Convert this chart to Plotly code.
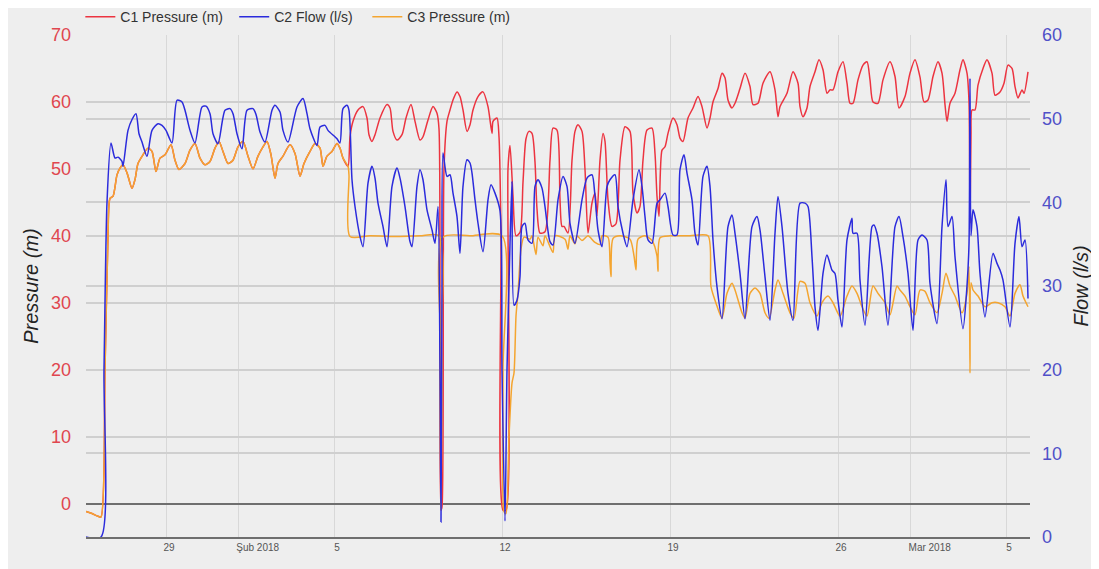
import pandas as pd
import plotly.graph_objects as go

# ---------------- data (time = hours since 2018-01-25 00:00) ----------------
# Start-up period: C1 and C3 pressures coincide (C1 hidden under C3)
early_hours = [16, 22, 28, 31, 35, 38, 40, 43, 47, 50,
               53, 57, 62, 65, 68, 73, 78, 82, 86, 90,
               95, 101, 105, 109, 115, 120, 125, 130, 135, 140,
               145, 149, 153, 158, 163, 168, 173, 178, 183, 188,
               193, 197, 201, 205, 208, 213, 220, 225, 230, 234,
               240, 245, 250, 253, 257, 262, 267, 270, 273, 278]
early_pressure = [-1.2, -1.5, -1.9, -2.0, 20.0, 40.0, 45.6, 45.9, 49.1, 50.1,
                  50.6, 49.4, 47.1, 48.4, 50.8, 52.1, 53.1, 52.6, 49.6, 51.6,
                  52.1, 53.6, 51.3, 49.9, 50.8, 52.8, 53.8, 51.6, 50.6, 51.1,
                  53.1, 54.1, 52.6, 50.8, 51.3, 53.3, 54.1, 51.9, 50.0, 51.9,
                  53.3, 54.1, 52.1, 48.6, 50.8, 51.9, 53.6, 52.3, 48.9, 50.8,
                  52.6, 53.8, 53.1, 50.4, 51.9, 52.6, 53.8, 53.1, 51.6, 50.4]

c1_hours_late = [280, 283, 288, 293, 297, 299, 302, 305, 310, 317,
                 320, 323, 327, 332, 336, 341, 345, 350, 353, 358,
                 363, 367, 369, 370, 371, 372, 374, 377, 380, 383,
                 387, 390, 393, 397, 400, 403, 408, 413, 418, 422,
                 423, 427, 429, 431, 433, 436, 438, 440, 443, 446,
                 450, 453, 456, 459, 462, 465, 467, 470, 475, 480,
                 483, 487, 490, 492, 494, 498, 502, 505, 508, 512,
                 515, 518, 522, 525, 527, 530, 533, 535, 538, 542,
                 546, 550, 555, 560, 563, 567, 570, 573, 577, 582,
                 585, 587, 589, 592, 595, 598, 603, 607, 610, 613,
                 618, 623, 628, 632, 637, 640, 643, 648, 652, 655,
                 658, 662, 665, 670, 675, 680, 683, 688, 693, 700,
                 705, 708, 710, 717, 723, 728, 730, 733, 737, 740,
                 745, 749, 753, 757, 760, 763, 768, 773, 777, 780,
                 783, 788, 793, 797, 800, 803, 808, 813, 820, 825,
                 829, 835, 840, 845, 850, 854, 858, 863, 868, 872,
                 875, 877, 880, 885, 890, 893, 897, 899, 900, 901,
                 902, 905, 908, 913, 917, 922, 925, 930, 934, 938,
                 942, 945, 948, 952, 954, 958]
c1_pressure_late = [54.8, 57.1, 58.8, 59.3, 57.6, 55.1, 54.1, 55.1, 57.6, 59.6,
                    59.1, 55.6, 54.3, 55.1, 57.6, 59.6, 57.1, 54.3, 54.8, 57.3,
                    59.3, 58.3, 56.0, 20.0, -1.0, -0.5, 50.0, 57.1, 58.8, 60.3,
                    61.5, 60.8, 58.8, 55.6, 56.6, 58.8, 60.8, 61.5, 59.3, 55.3,
                    57.1, 57.6, 54.8, 40.0, -1.0, -1.0, 50.0, 53.5, 46.0, 40.0,
                    40.5, 48.0, 54.5, 55.6, 55.3, 51.0, 44.0, 40.4, 40.6, 51.3,
                    56.1, 55.8, 45.4, 41.4, 41.4, 40.4, 51.3, 55.6, 56.6, 55.6,
                    49.9, 40.4, 44.9, 46.4, 43.0, 51.3, 55.3, 54.1, 45.4, 41.4,
                    41.8, 51.3, 56.3, 55.6, 46.4, 43.4, 44.4, 51.3, 55.8, 56.1,
                    52.3, 45.9, 42.9, 52.8, 53.3, 55.3, 57.6, 56.6, 54.6, 54.1,
                    57.6, 59.1, 60.8, 59.3, 56.1, 57.6, 60.0, 62.0, 64.3, 63.6,
                    60.3, 59.1, 59.8, 62.0, 64.3, 62.3, 59.6, 59.8, 62.8, 64.5,
                    61.8, 57.8, 59.3, 61.3, 64.5, 62.8, 59.3, 57.8, 59.1, 62.3,
                    64.5, 66.3, 64.8, 61.3, 61.8, 61.8, 64.5, 66.0, 62.8, 59.8,
                    59.8, 63.3, 65.5, 66.0, 63.3, 60.0, 59.8, 63.3, 66.0, 63.8,
                    59.1, 60.8, 64.3, 66.3, 63.7, 60.0, 60.3, 63.8, 66.0, 64.3,
                    59.6, 57.1, 59.8, 61.3, 64.8, 66.3, 64.3, 60.0, 42.0, 55.0,
                    58.8, 58.8, 62.5, 65.0, 66.3, 64.3, 61.0, 61.5, 62.8, 65.5,
                    65.0, 62.3, 60.6, 61.8, 61.3, 64.5]

c3_hours_late = [279, 280, 300, 330, 350, 369, 370, 371, 372, 373,
                 400, 432, 433, 434, 436, 439, 442, 444, 446, 448,
                 451, 454, 460, 462, 466, 468, 473, 475, 483, 485,
                 495, 498, 500, 505, 507, 512, 518, 525, 530, 532,
                 538, 540, 541, 543, 550, 560, 564, 566, 568, 575,
                 582, 587, 588, 590, 600, 620, 638, 641, 647, 652,
                 657, 662, 665, 672, 675, 680, 685, 690, 695, 699,
                 705, 708, 713, 720, 724, 730, 735, 740, 747, 752,
                 758, 763, 770, 777, 782, 787, 792, 797, 803, 808,
                 815, 820, 827, 830, 835, 840, 845, 850, 855, 860,
                 867, 872, 876, 880, 885, 892, 897, 899, 900, 901,
                 903, 908, 915, 922, 928, 935, 940, 945, 950, 953,
                 958]
c3_pressure_late = [49.0, 39.9, 40.0, 39.9, 40.0, 40.0, 20.0, -1.0, 20.0, 39.8,
                    40.0, 40.0, 20.0, -1.2, -1.5, 10.0, 18.0, 19.5, 28.0, 31.4,
                    38.0, 39.8, 39.5, 40.0, 37.2, 39.8, 38.5, 40.0, 37.5, 40.0,
                    39.5, 38.0, 40.0, 38.8, 40.0, 39.3, 40.0, 39.0, 38.7, 40.0,
                    39.8, 36.0, 33.9, 39.6, 40.0, 39.5, 37.0, 34.9, 39.5, 40.0,
                    39.3, 37.0, 34.7, 39.7, 40.0, 40.0, 40.0, 32.4, 29.5, 27.7,
                    31.4, 32.9, 31.9, 28.5, 27.7, 31.4, 32.2, 31.4, 28.5, 27.7,
                    31.9, 33.4, 31.4, 28.5, 27.7, 33.2, 32.9, 30.0, 28.0, 30.0,
                    31.0, 30.0, 28.0, 31.0, 32.5, 31.4, 29.4, 28.0, 32.5, 31.4,
                    30.0, 28.2, 32.5, 31.9, 31.0, 29.4, 28.2, 31.9, 31.7, 30.0,
                    28.5, 31.4, 34.4, 32.5, 31.0, 28.5, 31.4, 35.4, 19.5, 33.0,
                    31.9, 31.0, 29.4, 30.0, 30.0, 29.4, 28.0, 31.4, 32.7, 31.0,
                    29.4]

c2_hours = [16, 31, 34, 37, 41, 45, 48, 52, 53, 58,
            62, 66, 69, 72, 77, 82, 88, 92, 96, 102,
            107, 112, 115, 120, 125, 132, 136, 140, 143, 148,
            155, 160, 163, 167, 172, 177, 183, 186, 190, 195,
            202, 205, 210, 213, 218, 227, 233, 237, 240, 247,
            250, 255, 258, 267, 270, 273, 277, 279, 282, 285,
            290, 293, 298, 302, 305, 308, 313, 317, 322, 327,
            330, 335, 340, 342, 347, 350, 353, 357, 362, 365,
            368, 370, 371, 372, 373, 377, 380, 383, 387, 390,
            393, 397, 400, 402, 405, 408, 413, 418, 421, 425,
            430, 432, 435, 437, 440, 442, 444, 447, 450, 452,
            455, 458, 462, 465, 468, 472, 475, 480, 483, 488,
            493, 497, 500, 505, 512, 517, 522, 525, 528, 532,
            537, 540, 545, 548, 553, 557, 563, 569, 572, 575,
            578, 582, 587, 590, 595, 598, 603, 607, 610, 614,
            617, 622, 625, 628, 633, 637, 640, 643, 647, 652,
            658, 662, 665, 670, 675, 682, 687, 690, 695, 700,
            705, 708, 712, 718, 723, 730, 735, 738, 742, 745,
            748, 753, 757, 762, 765, 768, 772, 777, 782, 783,
            787, 790, 795, 802, 804, 807, 812, 818, 825, 829,
            833, 838, 843, 848, 852, 857, 860, 867, 872, 876,
            878, 882, 885, 893, 897, 899, 900, 901, 903, 907,
            910, 915, 923, 927, 930, 933, 940, 945, 949, 952,
            955, 958]
c2_flow = [0.0, 0.0, 20.0, 40.0, 47.1, 45.3, 45.4, 44.9, 44.3, 48.6,
           49.9, 50.6, 48.2, 47.2, 45.5, 48.6, 49.4, 49.2, 48.6, 47.1,
           52.2, 52.0, 51.0, 48.6, 47.1, 51.4, 51.5, 50.6, 48.2, 47.0,
           51.0, 51.2, 50.6, 48.2, 46.4, 51.0, 51.2, 50.5, 48.4, 47.2,
           51.0, 51.6, 50.8, 48.6, 47.2, 51.4, 52.4, 50.6, 48.8, 46.8,
           49.0, 49.2, 48.6, 47.6, 47.1, 51.2, 51.6, 51.0, 42.7, 39.5,
           35.9, 34.7, 42.3, 44.3, 42.9, 39.9, 37.1, 34.7, 41.9, 44.1,
           42.9, 39.5, 35.3, 34.7, 41.9, 43.9, 42.7, 39.1, 36.7, 35.1,
           39.5, 20.0, 1.8, 30.0, 45.9, 43.1, 43.3, 41.1, 38.3, 33.9,
           41.9, 45.1, 44.7, 43.5, 40.3, 37.5, 34.1, 40.3, 42.1, 41.1,
           39.0, 20.0, 1.9, 20.0, 35.0, 42.5, 27.7, 28.3, 31.1, 37.1,
           37.5, 35.5, 35.1, 41.9, 42.7, 41.7, 39.5, 35.3, 34.9, 40.3,
           43.1, 41.9, 37.5, 35.1, 40.3, 42.9, 43.3, 40.7, 36.7, 34.7,
           41.9, 42.7, 43.3, 39.5, 36.3, 34.7, 40.3, 43.9, 41.9, 38.3,
           35.5, 35.1, 39.9, 40.3, 41.1, 39.5, 36.1, 36.1, 43.9, 45.7,
           43.5, 40.3, 36.3, 34.9, 43.1, 44.3, 41.9, 35.5, 29.9, 26.1,
           37.1, 38.5, 36.3, 31.5, 26.1, 37.1, 38.3, 36.7, 31.1, 25.9,
           36.3, 40.7, 37.1, 29.1, 25.9, 39.9, 39.9, 39.5, 33.5, 27.5,
           24.7, 31.5, 33.7, 31.9, 31.5, 28.3, 25.1, 35.5, 38.1, 36.3,
           36.3, 30.7, 25.3, 37.1, 37.3, 36.3, 32.3, 25.3, 37.1, 38.3,
           35.9, 31.5, 24.7, 35.5, 36.1, 35.5, 30.3, 25.5, 37.1, 42.7,
           37.1, 38.3, 33.5, 24.9, 30.0, 35.0, 54.8, 36.0, 39.1, 37.1,
           31.5, 26.3, 33.9, 32.7, 31.9, 30.7, 25.1, 35.1, 38.3, 34.7,
           35.5, 28.5]

tick_dates = ["2018-01-29", "2018-02-01", "2018-02-05", "2018-02-12",
              "2018-02-19", "2018-02-26", "2018-03-01", "2018-03-05"]
tick_text = ["29", "Şub 2018", "5", "12", "19", "26", "Mar 2018", "5"]
pressure_ticks = [0, 10, 20, 30, 40, 50, 60, 70]
flow_ticks = [0, 10, 20, 30, 40, 50, 60]

# ---------------- build ----------------
assert len(early_hours) == len(early_pressure)
assert len(c1_hours_late) == len(c1_pressure_late)
assert len(c3_hours_late) == len(c3_pressure_late)
assert len(c2_hours) == len(c2_flow)

base = pd.Timestamp("2018-01-25")


def to_time(hours):
    return base + pd.to_timedelta(hours, unit="h")


c1_hours = early_hours + c1_hours_late
c1_pressure = early_pressure + c1_pressure_late
c3_hours = early_hours + c3_hours_late
c3_pressure = early_pressure + c3_pressure_late

# month labels start at their gridline in the reference: pad them on the left
FIG_SPACE = "\u2007"
tick_labels = [(FIG_SPACE * 6 + t) if "2018" in t else t for t in tick_text]

RED = "#ec3440"
BLUE = "#2b2bdc"
ORANGE = "#f4a530"
FONT = "Liberation Sans, Arial, sans-serif"
SMOOTH = 0.7

fig = go.Figure()
fig.add_trace(go.Scatter(x=to_time(c1_hours), y=c1_pressure, name="C1 Pressure (m)",
                         mode="lines", line=dict(color=RED, width=1.5, shape="spline",
                                                 smoothing=SMOOTH),
                         yaxis="y", legend="legend"))
fig.add_trace(go.Scatter(x=to_time(c2_hours), y=c2_flow, name="C2 Flow (l/s)",
                         mode="lines", line=dict(color=BLUE, width=1.5, shape="spline",
                                                 smoothing=SMOOTH),
                         yaxis="y2", legend="legend2"))
fig.add_trace(go.Scatter(x=to_time(c3_hours), y=c3_pressure, name="C3 Pressure (m)",
                         mode="lines", line=dict(color=ORANGE, width=1.5, shape="spline",
                                                 smoothing=SMOOTH),
                         yaxis="y", legend="legend3"))


def legend_box(xpos):
    return dict(orientation="h", xref="paper", x=xpos, xanchor="left",
                yref="container", y=0.984, yanchor="middle",
                font=dict(size=14, color="#333333"), bgcolor="rgba(0,0,0,0)",
                itemwidth=30)


fig.update_layout(
    width=1099, height=569,
    margin=dict(l=78, r=77, t=27, b=40),
    paper_bgcolor="#eeeeee", plot_bgcolor="#eeeeee",
    font=dict(family=FONT, color="#333333"),
    showlegend=True,
    legend=legend_box(-0.006),
    legend2=legend_box(0.157),
    legend3=legend_box(0.298),
    xaxis=dict(type="date",
               range=[to_time(16), to_time(960)],
               tickmode="array", tickvals=tick_dates, ticktext=tick_labels,
               tickfont=dict(size=10, color="#555555"), ticklabelshift=3,
               showgrid=True, gridcolor="#d8d8d8", gridwidth=1,
               showline=True, linecolor="#6e6e6e", linewidth=2,
               zeroline=False, ticks="", automargin=False),
    yaxis=dict(range=[-5, 70], tickmode="array", tickvals=pressure_ticks,
               tickfont=dict(size=18, color="#e0464f"), ticklabelstandoff=14,
               showgrid=True, gridcolor="#cfcfcf", gridwidth=1.5,
               zeroline=True, zerolinecolor="#6e6e6e", zerolinewidth=2,
               showline=False, ticks="", automargin=False,
               title=dict(text="<i>Pressure (m)</i>", font=dict(size=20, color="#222222"),
                          standoff=6)),
    yaxis2=dict(range=[0, 60], overlaying="y", side="right", tickmode="array",
                tickvals=flow_ticks, tickfont=dict(size=18, color="#5050c8"),
                ticklabelstandoff=11,
                showgrid=True, gridcolor="#cfcfcf", gridwidth=1.5,
                zeroline=False, showline=False, ticks="", automargin=False,
                title=dict(text="<i>Flow (l/s)</i>", font=dict(size=20, color="#222222"),
                           standoff=12)),
)

fig.write_html("out.html")
